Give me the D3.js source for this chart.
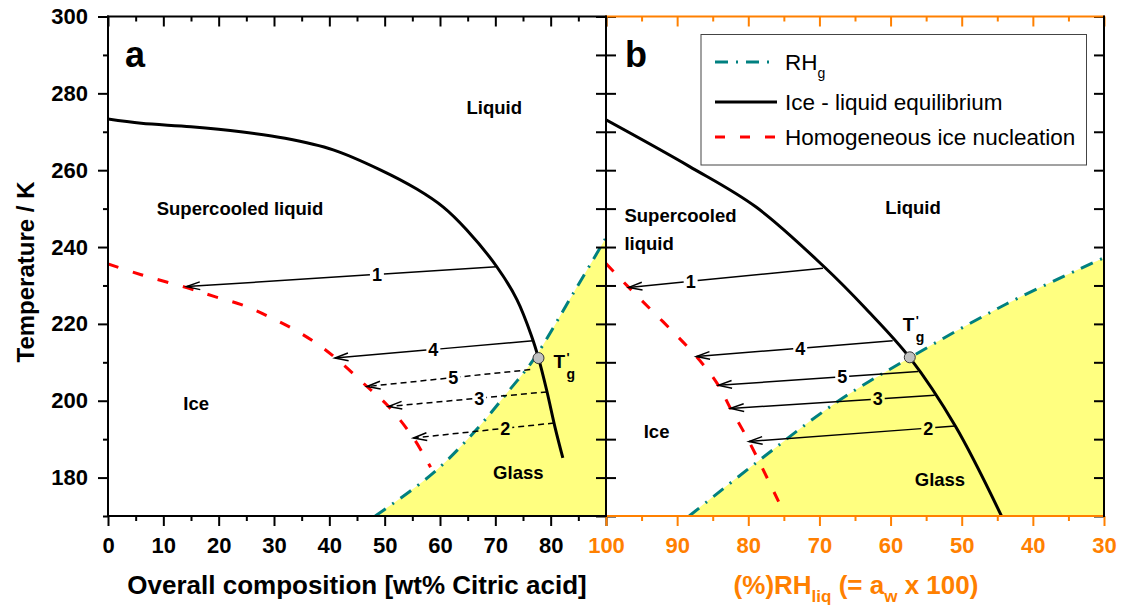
<!DOCTYPE html>
<html>
<head>
<meta charset="utf-8">
<script src="https://cdn.jsdelivr.net/npm/d3@7"></script>
<style>
  body { margin: 0; background: #fff; }
  text { font-family: "Liberation Sans", Arial, sans-serif; }
</style>
</head>
<body>
<div id="chart"></div>
<script>
const width = 1131;
const height = 610;
const margin = { left: 108, right: 27, top: 16.5, bottom: 94 };
const xMid = 606;

const orange = "#ff8000";
const teal = "#008080";
const red = "#ff0000";
const glassFill = "#ffff80";

// ticks
const tempLabels = [180, 200, 220, 240, 260, 280, 300];
const tempMinor = [170, 190, 210, 230, 250, 270, 290];
const tempAll = [170, 180, 190, 200, 210, 220, 230, 240, 250, 260, 270, 280, 290, 300];
const compLabels = [0, 10, 20, 30, 40, 50, 60, 70, 80];
const compMajor = [0, 10, 20, 30, 40, 50, 60, 70, 80, 90];
const compMinor = [5, 15, 25, 35, 45, 55, 65, 75, 85];
const rhMajor = [100, 90, 80, 70, 60, 50, 40, 30];
const rhMinor = [95, 85, 75, 65, 55, 45, 35];

// panel a : [wt% citric acid, T / K]
const iceLiquidA = [
  [0, 273.3], [6, 272.2], [15, 271.3], [24, 270], [32, 268.3], [40.7, 265.3],
  [49.2, 260.1], [55.8, 255.1], [60.6, 250.4], [64.8, 244.5],
  [70.2, 235], [73.9, 226.3], [76.6, 216.6], [77.8, 211.1], [79.3, 202.6],
  [80.8, 193], [82.2, 185.1],
];
const homNucA = [
  [0, 235.6], [6, 232.8], [14.5, 229.3], [19.3, 227.1], [24.1, 225], [28.9, 222],
  [33.7, 218.5], [38.5, 214.1], [42.2, 209.8], [46.8, 203.7], [50.7, 198.5],
  [55.2, 190.3], [58.3, 182.7],
];
const rhgA = [
  [48.3, 170], [58.8, 181.2], [66.6, 192.5], [72.1, 202], [76.9, 210.7],
  [84.1, 228], [90, 242.4],
];
const tgA = [77.8, 211.1];

// panel b : [RH %, T / K]
const iceLiquidB = [
  [100, 273.1], [88.3, 261], [78.9, 250.4], [69.3, 234.8], [63.5, 224],
  [57.3, 211.2], [50.9, 193.4], [44.2, 169.2],
];
const homNucB = [
  [100, 235.7], [96.8, 229.5], [87.3, 211.5], [84.2, 204], [82.5, 198],
  [79.9, 189.4], [75.6, 173.2],
];
const rhgB = [
  [88.3, 170], [79, 183.7], [67.6, 199.6], [57.3, 211.2], [43.8, 225.1], [30, 237.2],
];
const tgB = [57.3, 211.3];

// arrows: label, start x, start T, end x, end T, label x, dashed
const arrowsA = [
  ["1", 70.2, 234.9, 14.2, 229.7, 48.6, false],
  ["4", 76.8, 215.6, 41, 211.1, 58.8, false],
  ["5", 76.3, 208.1, 46.8, 203.7, 62.4, true],
  ["3", 79.3, 202.3, 50.7, 198.5, 67.1, true],
  ["2", 80.6, 194.2, 55.2, 190.3, 71.8, true],
];
const arrowsB = [
  ["1", 69.5, 234.5, 96.8, 229.5, 88.1, false],
  ["4", 59.7, 215.6, 87.3, 211.5, 72.7, false],
  ["5", 56.1, 207.6, 84.2, 204, 66.8, false],
  ["3", 53.8, 201.4, 82.5, 198, 61.8, false],
  ["2", 50.9, 193.4, 79.9, 189.4, 54.7, false],
];

// region labels: text, x, T (left / baseline)
const regionsA = [
  ["Liquid", 64.8, 274.6],
  ["Supercooled liquid", 8.8, 248.4],
  ["Ice", 13.6, 197.7],
  ["Glass", 69.6, 179.5],
];
const regionsB = [
  ["Liquid", 60.75, 248.6],
  ["Supercooled", 97.4, 246.6],
  ["liquid", 97.4, 239.3],
  ["Ice", 94.7, 190.4],
  ["Glass", 56.6, 177.7],
];

const yScale = d3
  .scaleLinear()
  .domain([170, 300])
  .range([height - margin.bottom, margin.top]);
const xScaleA = d3.scaleLinear().domain([0, 90]).range([margin.left, xMid]);
const xScaleB = d3
  .scaleLinear()
  .domain([100, 30])
  .range([xMid, width - margin.right]);

const yBot = yScale(170);
const yTop = yScale(300);
const smooth = d3.curveCatmullRom.alpha(0.5);

const svg = d3
  .select("#chart")
  .append("svg")
  .attr("width", width)
  .attr("height", height);

const defs = svg.append("defs");
[
  ["clip-a", margin.left, xMid],
  ["clip-b", xMid, width - margin.right],
].forEach(([id, l, r]) => {
  defs
    .append("clipPath")
    .attr("id", id)
    .append("rect")
    .attr("x", l)
    .attr("y", yTop)
    .attr("width", r - l)
    .attr("height", yBot - yTop);
});

const drawPanel = (xs, clipId, d) => {
  const g = svg.append("g").attr("clip-path", `url(#${clipId})`);

  const area = d3
    .area()
    .x((p) => xs(p[0]))
    .y0(yBot)
    .y1((p) => yScale(p[1]))
    .curve(smooth);
  g.append("path").attr("d", area(d.rhg)).attr("fill", glassFill);

  const line = d3
    .line()
    .x((p) => xs(p[0]))
    .y((p) => yScale(p[1]))
    .curve(smooth);

  g.append("path")
    .attr("d", line(d.rhg))
    .attr("fill", "none")
    .attr("stroke", teal)
    .attr("stroke-width", 3)
    .attr("stroke-dasharray", "13,8,2,8");

  g.append("path")
    .attr("d", line(d.homNuc))
    .attr("fill", "none")
    .attr("stroke", red)
    .attr("stroke-width", 3)
    .attr("stroke-dasharray", "11,15");

  g.append("path")
    .attr("d", line(d.iceLiquid))
    .attr("fill", "none")
    .attr("stroke", "#000")
    .attr("stroke-width", 3);

  // arrows
  d.arrows.forEach(([label, xa, ta, xb, tb, xl, dashed]) => {
    const p1 = [xs(xa), yScale(ta)];
    const p2 = [xs(xb), yScale(tb)];
    const dx = p2[0] - p1[0];
    const dy = p2[1] - p1[1];
    const len = Math.hypot(dx, dy);
    const ux = dx / len;
    const uy = dy / len;
    const f = (xs(xl) - p1[0]) / dx;
    const lp = [p1[0] + f * dx, p1[1] + f * dy];
    const gap = 7;
    const segs = [
      [p1, [lp[0] - ux * gap, lp[1] - uy * gap]],
      [[lp[0] + ux * gap, lp[1] + uy * gap], p2],
    ];
    g.selectAll(null)
      .data(segs)
      .join("line")
      .attr("x1", (s) => s[0][0])
      .attr("y1", (s) => s[0][1])
      .attr("x2", (s) => s[1][0])
      .attr("y2", (s) => s[1][1])
      .attr("stroke", "#000")
      .attr("stroke-width", 1.5)
      .attr("stroke-dasharray", dashed ? "6,4" : null);

    const ang = Math.atan2(dy, dx);
    const hl = 14;
    const ha = 0.28;
    const h1 = [p2[0] - hl * Math.cos(ang - ha), p2[1] - hl * Math.sin(ang - ha)];
    const h2 = [p2[0] - hl * Math.cos(ang + ha), p2[1] - hl * Math.sin(ang + ha)];
    g.append("path")
      .attr("d", `M${h1}L${p2}L${h2}`)
      .attr("fill", "none")
      .attr("stroke", "#000")
      .attr("stroke-width", 1.5);

    g.append("text")
      .attr("x", lp[0])
      .attr("y", lp[1])
      .attr("dy", "0.36em")
      .attr("text-anchor", "middle")
      .attr("font-size", 18)
      .attr("font-weight", "bold")
      .text(label);
  });

  g.selectAll(null)
    .data(d.regions)
    .join("text")
    .attr("x", (r) => xs(r[1]))
    .attr("y", (r) => yScale(r[2]))
    .attr("font-size", 18.5)
    .attr("font-weight", "bold")
    .text((r) => r[0]);
};

drawPanel(xScaleA, "clip-a", {
  rhg: rhgA,
  homNuc: homNucA,
  iceLiquid: iceLiquidA,
  arrows: arrowsA,
  regions: regionsA,
});
drawPanel(xScaleB, "clip-b", {
  rhg: rhgB,
  homNuc: homNucB,
  iceLiquid: iceLiquidB,
  arrows: arrowsB,
  regions: regionsB,
});

// axes
const styleAxis = (g, color) => {
  g.select(".domain").remove();
  g.selectAll("line").attr("stroke", color).attr("stroke-width", 2);
  g.selectAll("text")
    .attr("fill", color)
    .attr("font-size", 22)
    .attr("font-weight", "bold")
    .attr("font-family", "Liberation Sans, Arial, sans-serif");
};

const addAxis = (axis, tx, ty, color) => {
  svg
    .append("g")
    .attr("transform", `translate(${tx},${ty})`)
    .call(axis)
    .call((g) => styleAxis(g, color));
};

// left axis panel a
addAxis(
  d3.axisLeft(yScale).tickValues(tempLabels).tickSize(10).tickPadding(10),
  margin.left, 0, "#000"
);
addAxis(
  d3.axisLeft(yScale).tickValues(tempMinor).tickSize(5).tickFormat(""),
  margin.left, 0, "#000"
);
// divider ticks
addAxis(
  d3.axisRight(yScale).tickValues(tempAll).tickSize(-10).tickFormat(""),
  xMid, 0, "#000"
);
addAxis(
  d3.axisLeft(yScale).tickValues(tempAll).tickSize(-10).tickFormat(""),
  xMid, 0, "#000"
);
// right axis panel b
addAxis(
  d3.axisRight(yScale).tickValues(tempAll).tickSize(-10).tickFormat(""),
  width - margin.right, 0, "#000"
);

// panel a bottom / top
addAxis(
  d3.axisBottom(xScaleA).tickValues(compMajor).tickSize(10).tickPadding(11)
    .tickFormat((v) => (compLabels.includes(v) ? v : "")),
  0, yBot, "#000"
);
addAxis(
  d3.axisBottom(xScaleA).tickValues(compMinor).tickSize(5).tickFormat(""),
  0, yBot, "#000"
);
addAxis(
  d3.axisTop(xScaleA).tickValues(compMajor).tickSize(-10).tickFormat(""),
  0, yTop, "#000"
);
addAxis(
  d3.axisTop(xScaleA).tickValues(compMinor).tickSize(-5).tickFormat(""),
  0, yTop, "#000"
);

// panel b bottom / top
addAxis(
  d3.axisBottom(xScaleB).tickValues(rhMajor).tickSize(10).tickPadding(11),
  0, yBot, orange
);
addAxis(
  d3.axisBottom(xScaleB).tickValues(rhMinor).tickSize(5).tickFormat(""),
  0, yBot, orange
);
addAxis(
  d3.axisTop(xScaleB).tickValues(rhMajor).tickSize(-10).tickFormat(""),
  0, yTop, orange
);
addAxis(
  d3.axisTop(xScaleB).tickValues(rhMinor).tickSize(-5).tickFormat(""),
  0, yTop, orange
);

// frame lines
const frame = [
  [margin.left, yTop, xMid, yTop, "#000"],
  [margin.left, yBot, xMid, yBot, "#000"],
  [margin.left, yTop, margin.left, yBot, "#000"],
  [xMid, yTop, width - margin.right, yTop, orange],
  [xMid, yBot, width - margin.right, yBot, orange],
  [xMid, yTop, xMid, yBot, "#000"],
  [width - margin.right, yTop, width - margin.right, yBot, "#000"],
];
svg
  .selectAll(".frame")
  .data(frame)
  .join("line")
  .attr("class", "frame")
  .attr("x1", (d) => d[0])
  .attr("y1", (d) => d[1])
  .attr("x2", (d) => d[2])
  .attr("y2", (d) => d[3])
  .attr("stroke", (d) => d[4])
  .attr("stroke-width", 2)
  .attr("stroke-linecap", "square");

// T'g points
const drawTg = (px, py, tx, ty) => {
  svg.append("circle")
    .attr("cx", px).attr("cy", py).attr("r", 5.5)
    .attr("fill", "#c0c0c0").attr("stroke", "#333").attr("stroke-width", 1);
  svg.append("text").attr("x", tx).attr("y", ty)
    .attr("font-size", 19).attr("font-weight", "bold").text("T");
  svg.append("text").attr("x", tx + 13).attr("y", ty - 6)
    .attr("font-size", 13).attr("font-weight", "bold").text("'");
  svg.append("text").attr("x", tx + 13).attr("y", ty + 11)
    .attr("font-size", 14).attr("font-weight", "bold").text("g");
};
drawTg(xScaleA(tgA[0]), yScale(tgA[1]), xScaleA(tgA[0]) + 15, yScale(tgA[1]) + 10);
drawTg(xScaleB(tgB[0]), yScale(tgB[1]), xScaleB(tgB[0]) - 7, yScale(tgB[1]) - 26);

// panel letters
[["a", margin.left + 17], ["b", xMid + 19]].forEach(([t, x]) => {
  svg.append("text").attr("x", x).attr("y", 67)
    .attr("font-size", 36).attr("font-weight", "bold").text(t);
});

// axis titles
svg.append("text")
  .attr("transform", `translate(34,272) rotate(-90)`)
  .attr("text-anchor", "middle")
  .attr("font-size", 24).attr("font-weight", "bold")
  .text("Temperature / K");

svg.append("text")
  .attr("x", 357).attr("y", 594)
  .attr("text-anchor", "middle")
  .attr("font-size", 26).attr("font-weight", "bold")
  .text("Overall composition [wt% Citric acid]");

const rhTitle = svg.append("text")
  .attr("x", 856).attr("y", 594)
  .attr("text-anchor", "middle")
  .attr("font-size", 26).attr("font-weight", "bold")
  .attr("fill", orange);
rhTitle.append("tspan").text("(%)RH");
rhTitle.append("tspan").attr("dy", 8).attr("font-size", 17).text("liq");
rhTitle.append("tspan").attr("dy", -8).text(" (= a");
rhTitle.append("tspan").attr("dy", 8).attr("font-size", 17).text("w");
rhTitle.append("tspan").attr("dy", -8).text(" x 100)");

// legend
const legendItems = [
  { label: "RH", sub: "g", color: teal, dash: "13,8,2,8" },
  { label: "Ice - liquid equilibrium", sub: null, color: "#000", dash: null },
  { label: "Homogeneous ice nucleation", sub: null, color: red, dash: "10,15" },
];
const legend = svg.append("g");
legend.append("rect")
  .attr("x", 701).attr("y", 34.5).attr("width", 385.5).attr("height", 130.5)
  .attr("fill", "#fff").attr("stroke", "#444").attr("stroke-width", 1);
const rows = legend.selectAll("g")
  .data(legendItems)
  .join("g")
  .attr("transform", (d, i) => `translate(715,${[62, 102, 137][i]})`);
rows.append("line")
  .attr("x1", 0).attr("x2", 62)
  .attr("stroke", (d) => d.color)
  .attr("stroke-width", 3)
  .attr("stroke-dasharray", (d) => d.dash);
const lt = rows.append("text")
  .attr("x", 70).attr("y", 8)
  .attr("font-size", 22.5);
lt.append("tspan").text((d) => d.label);
lt.filter((d) => d.sub)
  .append("tspan").attr("dy", 8).attr("font-size", 14).text((d) => d.sub);
</script>
</body>
</html>
